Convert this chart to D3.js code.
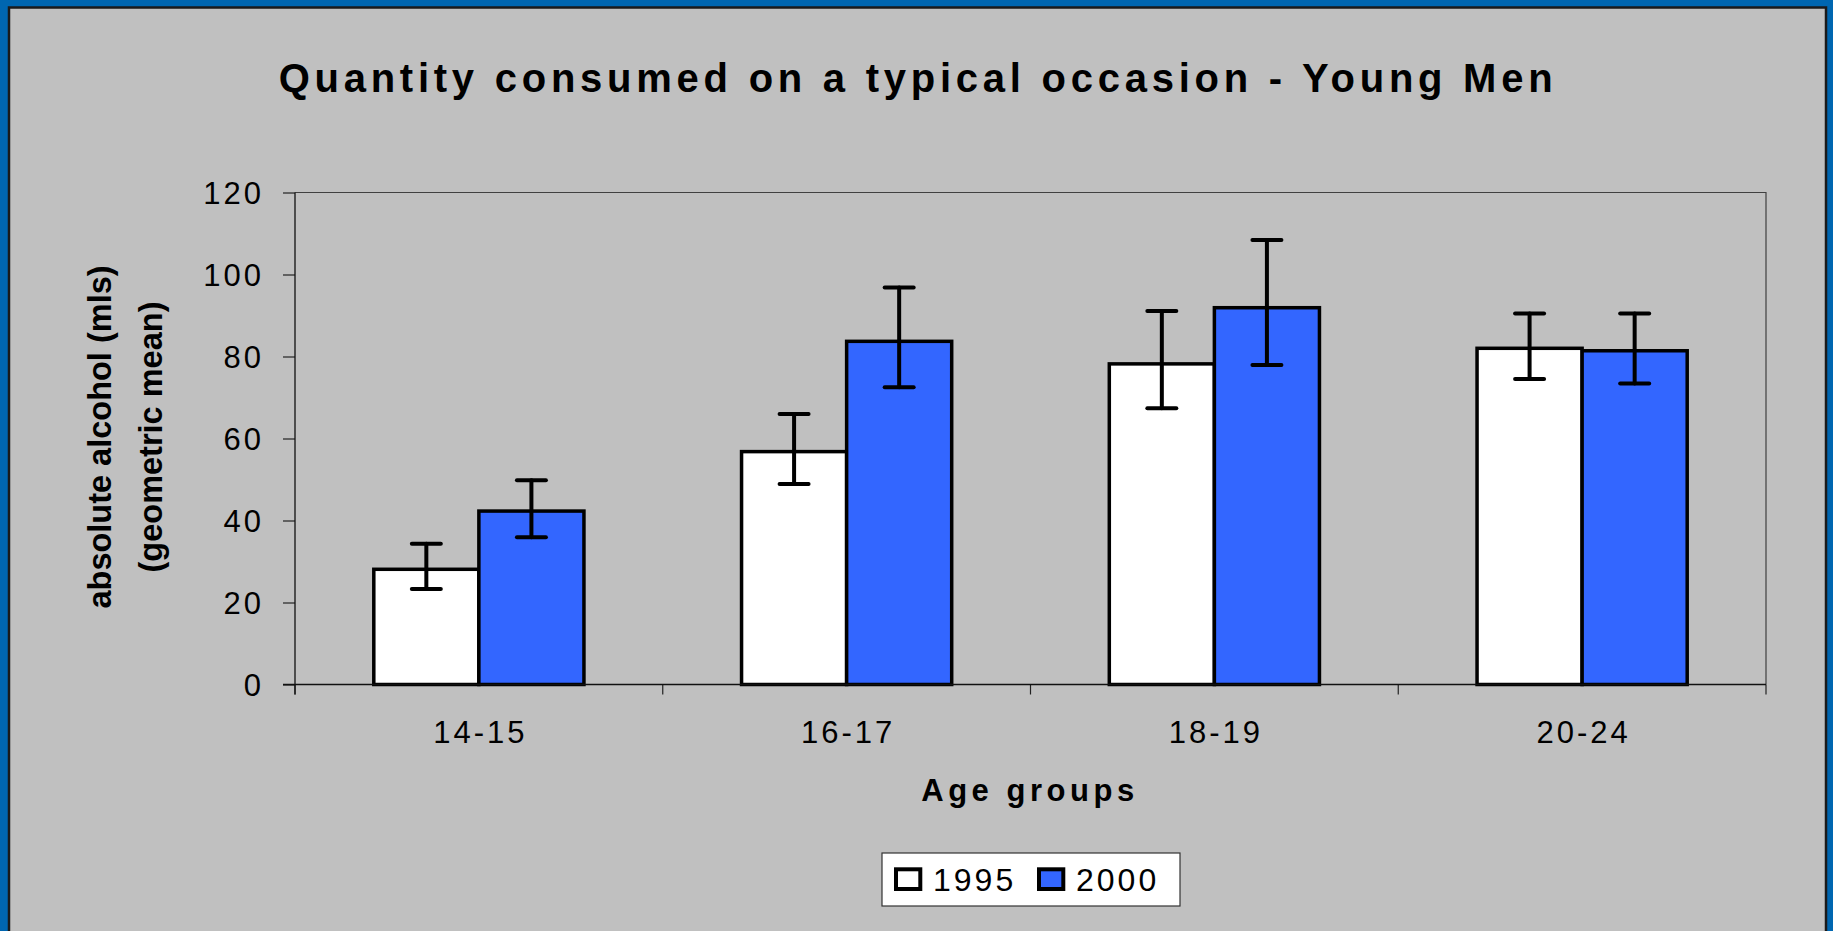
<!DOCTYPE html>
<html>
<head>
<meta charset="utf-8">
<script src="https://cdn.jsdelivr.net/npm/d3@7"></script>
<style>
	body { margin: 0; background: #0066B0; }
	svg { display: block; }
	text { font-family: "Liberation Sans", Arial, sans-serif; fill: #000; }
</style>
</head>
<body>
<div id="chart"></div>
<script>
// data
const ageGroups = ['14-15', '16-17', '18-19', '20-24'];
const years = ['1995', '2000'];
const mean1995 = [28.1, 56.8, 78.2, 82.0];
const mean2000 = [42.3, 83.7, 91.9, 81.4];
const lower1995 = [23.3, 48.9, 67.4, 74.5];
const upper1995 = [34.3, 66.0, 91.1, 90.5];
const lower2000 = [35.9, 72.5, 77.9, 73.4];
const upper2000 = [49.8, 96.8, 108.4, 90.5];
const yTicks = [0, 20, 40, 60, 80, 100, 120];

const titleText = 'Quantity consumed on a typical occasion - Young Men';
const xTitle = 'Age groups';
const yTitle = ['absolute alcohol (mls)', '(geometric mean)'];

const colors = { '1995': '#FFFFFF', '2000': '#3366FF' };

const width = 1833;
const height = 931;
const plot = { left: 295, right: 1766, top: 192.5, bottom: 684.5 };

const svg = d3.select('#chart')
	.append('svg')
	.attr('width', width)
	.attr('height', height);

// blue frame + grey panel
svg.append('rect')
	.attr('width', width)
	.attr('height', height)
	.attr('fill', '#0066B0');

svg.append('rect')
	.attr('x', 9)
	.attr('y', 7.5)
	.attr('width', 1817)
	.attr('height', 1000)
	.attr('fill', '#C0C0C0')
	.attr('stroke', '#1a1a1a')
	.attr('stroke-width', 2.5);

const x = d3.scaleBand()
	.domain(ageGroups)
	.range([plot.left, plot.right]);

// excel style: gap width 150%
const xSub = d3.scaleBand()
	.domain(years)
	.range([0, x.bandwidth()])
	.paddingOuter(0.75);

const y = d3.scaleLinear()
	.domain([0, 120])
	.range([plot.bottom, plot.top]);

// plot border (top/right)
svg.append('path')
	.attr('d', `M${plot.left},${plot.top}H${plot.right}V${plot.bottom}`)
	.attr('fill', 'none')
	.attr('stroke', '#404040')
	.attr('stroke-width', 1.2);

// y axis
const yAxis = svg.append('g')
	.attr('transform', `translate(${plot.left},0)`)
	.call(
		d3.axisLeft(y)
		.tickValues(yTicks)
		.tickSize(12)
		.tickSizeOuter(0)
		.tickPadding(19)
	);

yAxis.select('.domain').remove();
yAxis.selectAll('.tick line')
	.attr('stroke', '#222')
	.attr('stroke-width', 1.2);
yAxis.selectAll('.tick text')
	.attr('font-size', 31)
	.attr('letter-spacing', 3)
	.attr('dy', '0.34em');

// x axis ticks on band edges
const edges = ageGroups.map((d) => x(d)).concat([plot.right]);

svg.append('g')
	.selectAll('line')
	.data(edges)
	.enter()
	.append('line')
	.attr('x1', (d) => d)
	.attr('x2', (d) => d)
	.attr('y1', plot.bottom)
	.attr('y2', plot.bottom + 10)
	.attr('stroke', '#222')
	.attr('stroke-width', 1.2);

svg.append('g')
	.selectAll('text')
	.data(ageGroups)
	.enter()
	.append('text')
	.attr('x', (d) => x(d) + x.bandwidth() / 2 + 1.5)
	.attr('y', 742.5)
	.attr('text-anchor', 'middle')
	.attr('font-size', 31)
	.attr('letter-spacing', 3)
	.text((d) => d);

// bars
const rows = ageGroups.map((g, i) => ({
	group: g,
	values: [
		{ year: '1995', mean: mean1995[i], lo: lower1995[i], hi: upper1995[i] },
		{ year: '2000', mean: mean2000[i], lo: lower2000[i], hi: upper2000[i] }
	]
}));

const groups = svg.append('g')
	.selectAll('g')
	.data(rows)
	.enter()
	.append('g')
	.attr('transform', (d) => `translate(${x(d.group)},0)`);

groups.selectAll('rect')
	.data((d) => d.values)
	.enter()
	.append('rect')
	.attr('x', (d) => xSub(d.year))
	.attr('y', (d) => y(d.mean))
	.attr('width', xSub.bandwidth())
	.attr('height', (d) => y(0) - y(d.mean))
	.attr('fill', (d) => colors[d.year])
	.attr('stroke', '#000')
	.attr('stroke-width', 3.5);

// axis lines on top of bar edges
svg.append('path')
	.attr('d', `M${plot.left},${plot.top}V${plot.bottom + 10}M${plot.left - 12},${plot.bottom}H${plot.right}`)
	.attr('fill', 'none')
	.attr('stroke', '#111')
	.attr('stroke-width', 1.3);

// error bars
const capHalf = 14.5;
const err = groups.selectAll('g.err')
	.data((d) => d.values)
	.enter()
	.append('g')
	.attr('class', 'err')
	.attr('stroke', '#000')
	.attr('stroke-width', 4)
	.attr('stroke-linecap', 'round');

const cx = (d) => xSub(d.year) + xSub.bandwidth() / 2;

err.append('line')
	.attr('x1', cx)
	.attr('x2', cx)
	.attr('y1', (d) => y(d.lo))
	.attr('y2', (d) => y(d.hi));

err.append('line')
	.attr('x1', (d) => cx(d) - capHalf)
	.attr('x2', (d) => cx(d) + capHalf)
	.attr('y1', (d) => y(d.hi))
	.attr('y2', (d) => y(d.hi));

err.append('line')
	.attr('x1', (d) => cx(d) - capHalf)
	.attr('x2', (d) => cx(d) + capHalf)
	.attr('y1', (d) => y(d.lo))
	.attr('y2', (d) => y(d.lo));

// titles
const title = svg.append('text')
	.attr('x', 918)
	.attr('y', 92)
	.attr('text-anchor', 'middle')
	.attr('font-size', 40)
	.attr('font-weight', 'bold')
	.text(titleText);

// spread the title letters like the original
const natural = title.node().getComputedTextLength();
title.attr('letter-spacing', (1274 - natural) / (titleText.length - 1));

const xt = svg.append('text')
	.attr('x', 1030)
	.attr('y', 801)
	.attr('text-anchor', 'middle')
	.attr('font-size', 31)
	.attr('font-weight', 'bold')
	.text(xTitle);
const xtNat = xt.node().getComputedTextLength();
xt.attr('letter-spacing', (213 - xtNat) / (xTitle.length - 1));

svg.append('g')
	.attr('transform', 'translate(0,437) rotate(-90)')
	.selectAll('text')
	.data(yTitle)
	.enter()
	.append('text')
	.attr('x', 0)
	.attr('y', (d, i) => 111 + i * 51)
	.attr('text-anchor', 'middle')
	.attr('font-size', 32.5)
	.attr('font-weight', 'bold')
	.text((d) => d);

// legend
const legend = svg.append('g');

legend.append('rect')
	.attr('x', 882)
	.attr('y', 853)
	.attr('width', 298)
	.attr('height', 53)
	.attr('fill', '#fff')
	.attr('stroke', '#333')
	.attr('stroke-width', 1.2);

const legendX = [894, 1037];

const item = legend.selectAll('g.item')
	.data(years)
	.enter()
	.append('g')
	.attr('class', 'item')
	.attr('transform', (d, i) => `translate(${legendX[i]},0)`);

item.append('rect')
	.attr('x', 2)
	.attr('y', 869.3)
	.attr('width', 24.3)
	.attr('height', 19.7)
	.attr('fill', (d) => colors[d])
	.attr('stroke', '#000')
	.attr('stroke-width', 4);

item.append('text')
	.attr('x', 39)
	.attr('y', 891)
	.attr('font-size', 32)
	.attr('letter-spacing', 3)
	.text((d) => d);
</script>
</body>
</html>
